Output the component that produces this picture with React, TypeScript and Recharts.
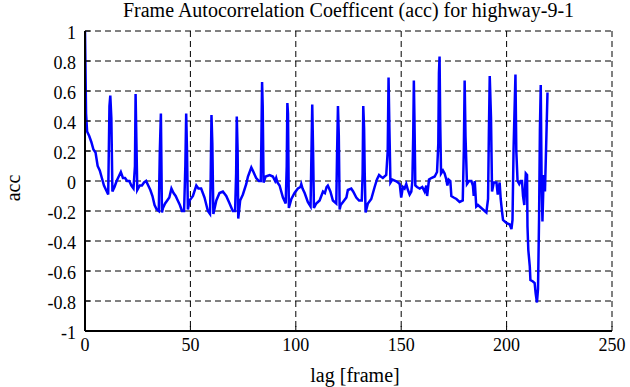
import React from "react";
import { LineChart, Line, XAxis, YAxis, CartesianGrid } from "recharts";

const TITLE = "Frame Autocorrelation Coefficent (acc) for highway-9-1";
const X_LABEL = "lag [frame]";
const Y_LABEL = "acc";

const X_TICKS = [0, 50, 100, 150, 200, 250];
const Y_TICKS = [-1, -0.8, -0.6, -0.4, -0.2, 0, 0.2, 0.4, 0.6, 0.8, 1];

const lags = [
  0, 0.5, 1, 2, 3, 4, 5, 6, 7, 8, 9, 10, 11, 11.6, 12, 12.5, 13, 14, 15, 16, 17, 18, 19, 20, 21, 22, 23,
  23.7, 24, 24.4, 24.8, 26, 27, 28, 29, 30, 31, 32, 33, 34, 35, 35.5, 36, 36.5, 37, 38, 39, 40, 41, 42,
  43, 44, 45, 46, 47, 47.6, 48, 48.4, 48.8, 49.6, 51.2, 52.8, 53.8, 55.1, 56.7, 58.3, 59.3, 59.6, 60,
  60.4, 60.9, 62.3, 63.8, 65.4, 67, 68.6, 70.1, 71.2, 71.7, 72, 72.4, 72.7, 73.6, 74.9, 76.5, 77.3, 78.9,
  79.6, 81.2, 82.5, 83.4, 83.7, 84, 84.3, 84.7, 85.7, 87.6, 89.1, 90.2, 90.7, 91.3, 92.3, 93.9, 95.2,
  95.7, 96, 96.3, 96.7, 97.9, 99.4, 101, 102.2, 102.6, 103.2, 104.2, 105.7, 107, 107.5, 107.8, 108.2,
  108.6, 109.7, 111.3, 112.9, 113.8, 114.6, 115.2, 116.4, 117.6, 119.2, 119.6, 120, 120.4, 120.8, 121.3,
  122.4, 124, 124.7, 126.3, 127.2, 128.7, 130, 131.3, 131.7, 132, 132.4, 132.7, 133.1, 134.2, 135.8,
  137.4, 138.5, 139.5, 140.3, 141.3, 142.9, 143.6, 144, 144.4, 144.9, 145.8, 147.4, 148.5, 149.3, 150,
  150.8, 151.6, 152.4, 153.2, 154, 154.8, 155.3, 155.7, 156, 156.3, 156.7, 157.5, 158.8, 160, 161.1,
  161.9, 162.3, 163.2, 164.3, 165.9, 167, 167.6, 167.9, 168.2, 168.5, 168.9, 169.8, 170.6, 171.4, 171.9,
  172.5, 173.3, 173.8, 174.9, 176.2, 177.7, 179.2, 179.7, 180.1, 180.5, 181.2, 182.2, 183.3, 184, 184.4,
  184.9, 185.6, 186.4, 188, 189.6, 190.4, 191.2, 191.6, 192, 192.6, 193.1, 193.9, 195.2, 195.8, 196.7,
  197.2, 197.8, 198.3, 199.9, 201.5, 202.3, 202.8, 203.3, 204.2, 204.6, 205.2, 206, 206.7, 207.3, 207.8,
  208.4, 209.1, 209.7, 209.9, 210.3, 211, 211.3, 212.5, 213.3, 213.8, 214.4, 214.9, 215.4, 215.8, 216.2,
  216.6, 217, 217.6, 218.2, 218.9, 219.4,
];

const acc = [
  1.0, 0.45, 0.33, 0.3, 0.26, 0.21, 0.19, 0.1, 0.07, 0.02, -0.03, -0.06, -0.09, 0.5, 0.57, 0.42, -0.07,
  -0.04, 0.0, 0.03, 0.06, 0.02, 0.02, 0.0, 0.0, -0.03, -0.05,
  0.1, 0.58, 0.25, -0.06, -0.03, -0.03, -0.01, 0.0, -0.03, -0.06, -0.1, -0.16, -0.19, -0.2, 0.2, 0.45,
  -0.21, -0.18, -0.15, -0.13, -0.11, -0.05, -0.08,
  -0.1, -0.13, -0.16, -0.2, -0.2, 0.1, 0.45, 0.2, -0.19, -0.13, -0.1, -0.03, -0.05, -0.05, -0.11, -0.2,
  -0.22, 0.0, 0.44,
  0.25, -0.22, -0.13, -0.08, -0.07, -0.1, -0.15, -0.2, -0.2, 0.05, 0.43, 0.2, -0.25, -0.13, -0.09, -0.02,
  0.03, 0.09,
  0.07, 0.02, 0.0, 0.0, 0.3, 0.66, 0.5, -0.01, 0.03, 0.04, 0.03, 0.0, 0.02, -0.01, -0.03, -0.11, -0.15,
  0.1, 0.52, 0.45, -0.18, -0.12, -0.08, -0.05, -0.04, -0.02, -0.05, -0.08, -0.14, -0.17, 0.25, 0.51, 0.2,
  -0.18, -0.15, -0.13, -0.07, -0.08, -0.04, -0.03, -0.07, -0.13, -0.15, 0.2, 0.5, 0.3, -0.19, -0.16,
  -0.14, -0.11, -0.06, -0.05, -0.07, -0.11, -0.13, -0.13, 0.05, 0.5, 0.35, 0.05, -0.21, -0.15, -0.12,
  -0.04, 0.01, 0.04, 0.03, 0.02, 0.04, 0.2, 0.69, 0.35, -0.01, 0.01, 0.0, -0.01, -0.02, -0.11,
  -0.04, -0.05, -0.02, -0.06, -0.09, -0.07, 0.0, 0.3, 0.67, 0.4, -0.03, -0.04, -0.05, -0.04, -0.07,
  -0.03, -0.1, 0.01, 0.02, 0.03, 0.06, 0.25, 0.72, 0.83, 0.4, 0.05, 0.07, 0.05, 0.01, -0.03,
  0.01, 0.0, -0.1, -0.11, -0.12, -0.14, -0.13, 0.2, 0.67, 0.3, -0.02, 0.0, 0.0, -0.03, -0.1,
  0.0, -0.17, -0.16, -0.18, -0.2, -0.21, -0.12, 0.33, 0.7, 0.42, -0.07, -0.01, -0.01, -0.09, -0.01,
  -0.12, -0.2, -0.26, -0.28, -0.29, -0.32, -0.26, 0.21, 0.71, 0.2, 0.0, -0.02, 0.0, 0.0, -0.1,
  -0.16, 0.05, 0.04, -0.3, -0.46, -0.57, -0.66, -0.67, -0.68, -0.75, -0.81, -0.72, -0.25, 0.34, 0.64,
  0.0, -0.27, 0.04, -0.07, 0.31, 0.59,
];

const data = lags.map((l, i) => ({ lag: l, acc: acc[i] }));

const W = 630;
const H = 387;
const PL = 85;
const PR = 612;
const PT = 31;
const PB = 331;
const TICK = 5;
const FONT = "Liberation Serif, Times New Roman, serif";

const fmtY = (v: number) => {
  if (v === 0) return "0";
  return String(Math.round(v * 10) / 10);
};

const BottomTick = (props: any) => {
  const { x, payload } = props;
  return (
    <g>
      <line x1={x} x2={x} y1={PB} y2={PB - TICK} stroke="#000" strokeWidth={1} />
      <text x={x} y={351} textAnchor="middle" style={{ fontFamily: FONT, fontSize: 18 }} fill="#000">
        {payload.value}
      </text>
    </g>
  );
};

const TopTick = (props: any) => {
  const { x } = props;
  return <line x1={x} x2={x} y1={PT} y2={PT + TICK} stroke="#000" strokeWidth={1} />;
};

const LeftTick = (props: any) => {
  const { y, payload } = props;
  return (
    <g>
      <line x1={PL} x2={PL + TICK} y1={y} y2={y} stroke="#000" strokeWidth={1} />
      <text x={76} y={y + 7.5} textAnchor="end" style={{ fontFamily: FONT, fontSize: 18 }} fill="#000">
        {fmtY(payload.value)}
      </text>
    </g>
  );
};

const RightTick = (props: any) => {
  const { y } = props;
  return <line x1={PR} x2={PR - TICK} y1={y} y2={y} stroke="#000" strokeWidth={1} />;
};

export default function App() {
  return (
    <div style={{ position: "absolute", left: 0, top: 0, width: W, height: H, background: "#fff" }}>
      <LineChart
        width={W}
        height={H}
        data={data}
        margin={{ top: PT, right: W - PR, bottom: 0, left: 0 }}
      >
        <CartesianGrid
          xAxisId="b"
          yAxisId="l"
          stroke="#000"
          strokeWidth={1}
          strokeDasharray="6 4"
        />
        <XAxis
          xAxisId="b"
          dataKey="lag"
          type="number"
          domain={[0, 250]}
          ticks={X_TICKS}
          interval={0}
          height={H - PB}
          axisLine={{ stroke: "#000", strokeWidth: 2 }}
          tickLine={false}
          tickSize={0}
          tick={BottomTick}
          allowDataOverflow
        />
        <XAxis
          xAxisId="t"
          orientation="top"
          dataKey="lag"
          type="number"
          domain={[0, 250]}
          ticks={X_TICKS}
          interval={0}
          height={0}
          axisLine={{ stroke: "#000", strokeWidth: 2 }}
          tickLine={false}
          tickSize={0}
          tick={TopTick}
          allowDataOverflow
        />
        <YAxis
          yAxisId="l"
          type="number"
          domain={[-1, 1]}
          ticks={Y_TICKS}
          interval={0}
          width={PL}
          axisLine={{ stroke: "#000", strokeWidth: 2 }}
          tickLine={false}
          tickSize={0}
          tick={LeftTick}
          allowDataOverflow
        />
        <YAxis
          yAxisId="r"
          orientation="right"
          type="number"
          domain={[-1, 1]}
          ticks={Y_TICKS}
          interval={0}
          width={0}
          axisLine={{ stroke: "#000", strokeWidth: 2 }}
          tickLine={false}
          tickSize={0}
          tick={RightTick}
          allowDataOverflow
        />
        <Line
          xAxisId="b"
          yAxisId="l"
          type="linear"
          dataKey="acc"
          stroke="#0000ff"
          strokeWidth={2.5}
          dot={false}
          isAnimationActive={false}
        />
        <text x={(PL + PR) / 2} y={17} textAnchor="middle" style={{ fontFamily: FONT, fontSize: 20 }} fill="#000">
          {TITLE}
        </text>
        <text x={355} y={382} textAnchor="middle" style={{ fontFamily: FONT, fontSize: 20 }} fill="#000">
          {X_LABEL}
        </text>
        <text
          x={20}
          y={188}
          textAnchor="middle"
          style={{ fontFamily: FONT, fontSize: 20 }}
          fill="#000"
          transform="rotate(-90 20 188)"
        >
          {Y_LABEL}
        </text>
      </LineChart>
    </div>
  );
}
